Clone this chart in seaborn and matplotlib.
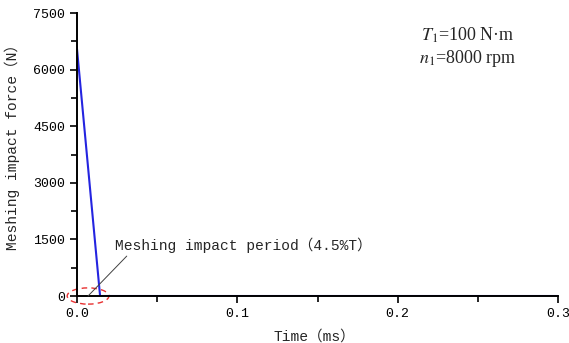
import numpy as np
import pandas as pd
import seaborn as sb
import matplotlib
matplotlib.use('Agg')
import matplotlib.pyplot as plt
from matplotlib.patches import Ellipse
from matplotlib.ticker import MultipleLocator

# data
time_ms = [0.0, 0.0145, 0.3]
force_n = [6600, 0, 0]
x_ticks = [0.0, 0.1, 0.2, 0.3]
x_tick_labels = ["0.0", "0.1", "0.2", "0.3"]
y_ticks = [0, 1500, 3000, 4500, 6000, 7500]

sb.set_style("ticks")
mono = ['Liberation Mono', 'Noto Sans CJK SC', 'DejaVu Sans']
plt.rcParams['font.family'] = mono
plt.rcParams['mathtext.fontset'] = 'stix'

df = pd.DataFrame({"time": time_ms, "force": force_n})

fig = plt.figure(figsize=(5.69, 3.43), dpi=100)
ax = fig.add_axes([0.135, 0.137, 0.846, 0.825])

sb.lineplot(data=df, x="time", y="force", ax=ax, color="#2424e0", linewidth=1.5)

ax.set_xlim(0, 0.3)
ax.set_ylim(0, 7500)
ax.set_xticks(x_ticks)
ax.set_xticklabels(x_tick_labels)
ax.set_yticks(y_ticks)
ax.xaxis.set_minor_locator(MultipleLocator(0.05))
ax.yaxis.set_minor_locator(MultipleLocator(750))
ax.tick_params(which='both', direction='out', length=4, width=1.2, labelsize=9.5, colors='black')
ax.tick_params(which='major', length=5)

for s in ['top', 'right']:
    ax.spines[s].set_visible(False)
for s in ['left', 'bottom']:
    ax.spines[s].set_linewidth(1.4)
    ax.spines[s].set_color('black')

ax.set_xlabel("Time（ms）", fontsize=10.5)
ax.set_ylabel("Meshing impact force（N）", fontsize=10.5)
ax.xaxis.set_label_coords(0.494, -0.118)
ax.yaxis.set_label_coords(-0.117, 0.538)

# dashed ellipse around the impact period
ell = Ellipse((0.007, 0), width=0.026, height=430, fill=False, edgecolor='#e83030',
              linestyle=(0, (4, 3)), linewidth=1.0, clip_on=False)
ax.add_patch(ell)

ax.annotate("Meshing impact period（4.5%T）", xy=(0.007, 0), xytext=(0.0235, 1350),
            fontsize=10.5, family=mono, va='center', ha='left',
            arrowprops=dict(arrowstyle='-', color='#404040', linewidth=0.7,
                            shrinkA=0, shrinkB=0, relpos=(0.06, 0.0)),
            annotation_clip=False)

ax.text(0.813, 0.922, "$T_1$=100 N·m", transform=ax.transAxes, fontsize=13,
        family='Liberation Serif', ha='center', va='center')
ax.text(0.813, 0.841, "$n_1$=8000 rpm", transform=ax.transAxes, fontsize=13,
        family='Liberation Serif', ha='center', va='center')

fig.savefig("out.png", dpi=100)
